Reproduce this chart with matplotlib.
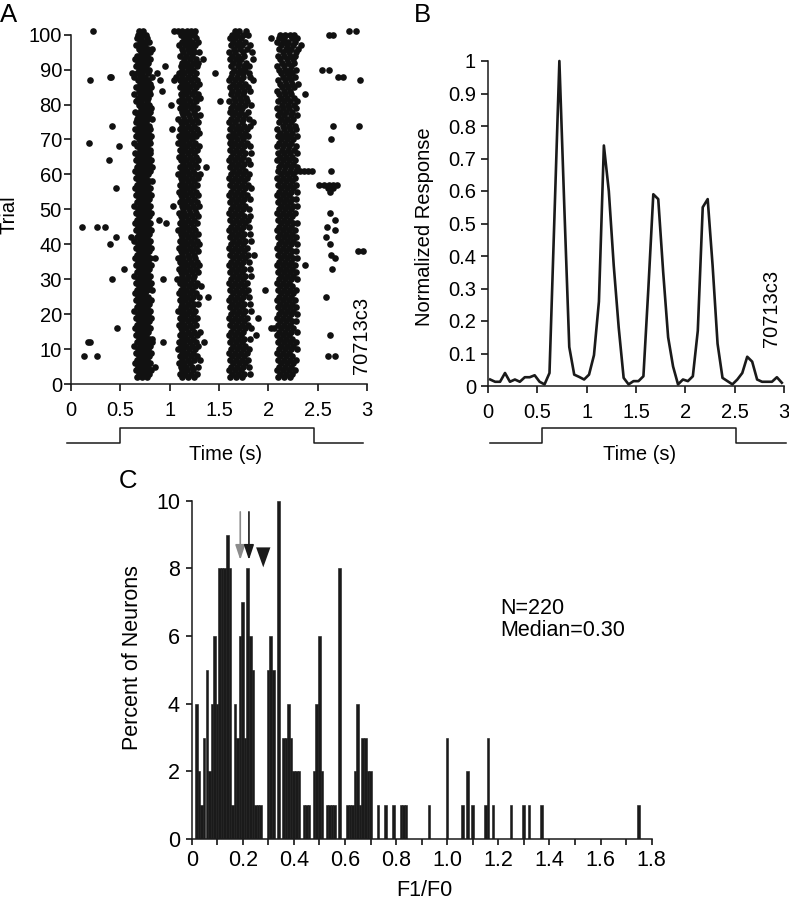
import numpy as np
import matplotlib
matplotlib.use('Agg')
from matplotlib import pyplot as plt

plt.rcParams['font.family'] = ['Liberation Sans', 'DejaVu Sans']

W, H = 789, 900

# ---- A: raster, spike times in 1/100 s, one string per trial (top trial first)
trials = list(range(101, 1, -1))
spikes = [
    "22 69 73 104 108 113 118 122 126 166 170 177 282 289",
    "68 72 76 111 116 121 125 163 168 174 179 212 217 222 226 261 266",
    "67 71 77 115 120 127 161 166 172 203 211 216 224 229",
    "70 74 79 113 118 123 129 164 170 176 209 215 220 227",
    "66 71 75 109 116 121 126 162 168 173 181 213 219 225 233",
    "69 73 78 82 112 119 124 165 171 178 211 218 223 230",
    "71 76 80 114 120 125 130 160 166 174 183 215 221 228",
    "67 72 77 110 117 123 163 169 175 210 216 222 227",
    "65 70 75 80 115 121 127 134 161 167 172 184 212 219 225",
    "68 73 78 112 118 124 129 164 170 177 214 220 226",
    "66 71 76 95 111 117 122 128 162 169 175 180 209 216 223",
    "69 74 79 113 119 124 165 171 176 211 217 222 228 254 261",
    "62 67 72 78 87 109 115 121 127 146 163 169 174 180 213 219 224",
    "40 41 64 70 75 82 106 113 119 125 162 168 174 181 215 221 227 271 276",
    "19 68 73 78 90 104 110 116 122 128 160 166 172 184 210 217 223 293",
    "70 75 80 112 118 124 130 164 170 176 212 218 224 230",
    "66 71 76 81 110 116 121 127 161 167 173 179 214 220 226",
    "69 74 79 92 114 119 125 163 169 175 181 209 216 222",
    "64 70 75 80 111 117 123 129 162 168 174 211 217 223 237",
    "68 73 78 113 119 126 131 165 171 177 213 219 226",
    "66 71 77 109 115 121 127 151 160 166 172 178 210 216 222 229",
    "69 74 79 101 112 118 124 164 170 176 182 214 220 226",
    "71 76 81 110 116 122 128 162 168 173 209 215 221 228",
    "65 70 75 80 112 118 125 161 166 172 179 212 218 224",
    "68 73 78 114 120 126 131 164 170 176 210 216 223 229",
    "67 72 77 82 108 115 121 127 162 168 174 180 213 219 225",
    "66 71 76 111 117 123 129 160 166 173 184 211 217 223",
    "42 69 74 79 113 119 125 163 169 175 181 215 221 227 266 292",
    "65 70 75 80 102 110 116 122 128 161 167 172 178 209 216 222 228",
    "68 73 78 112 118 124 130 164 170 176 212 218 224",
    "66 71 76 81 109 115 121 127 160 166 173 179 210 216 222 229",
    "69 74 79 111 117 123 162 168 174 213 219 225 264",
    "18 64 70 75 80 108 114 120 126 161 166 172 178 211 217 223",
    "49 67 72 77 112 118 124 130 163 169 175 181 209 215 221 228",
    "70 75 80 110 116 122 128 161 167 173 214 220 226",
    "65 70 75 80 113 119 125 164 170 176 182 210 216 222 229",
    "68 73 78 109 115 121 127 162 168 174 212 218 224",
    "39 66 71 76 81 111 117 123 129 160 166 172 179 209 215 221 227",
    "69 74 79 114 120 126 163 169 175 181 213 219 225",
    "67 72 77 82 110 116 122 128 137 161 167 173 211 217 223 229",
    "65 70 75 80 112 118 124 164 170 176 210 216 222 228 232 236 240 244 264",
    "68 73 78 108 114 120 126 131 162 168 174 180 213 219 225",
    "66 71 76 111 117 123 129 160 166 172 178 209 215 221 227",
    "69 74 79 82 113 119 125 163 169 175 212 218 224",
    "67 72 77 110 116 122 128 161 167 173 179 210 216 222 228 251 256 261 266 270",
    "46 65 70 75 80 112 118 124 164 170 176 182 213 219 225 260 266",
    "68 73 78 109 115 121 127 162 168 174 211 217 223 229 262",
    "66 71 76 81 111 117 123 129 160 166 172 178 209 215 221",
    "69 74 79 113 119 125 163 169 175 181 212 218 224 228",
    "67 72 77 110 116 122 128 161 167 173 210 216 222",
    "64 70 75 80 103 112 118 124 130 164 170 176 213 219 225 229",
    "68 73 78 114 120 126 162 168 174 180 211 217 223",
    "66 71 76 81 109 115 121 127 160 166 172 209 215 221 227 262",
    "69 74 79 111 117 123 129 163 169 175 181 212 218 224",
    "67 72 77 89 113 119 125 161 167 173 179 210 216 222 268",
    "65 70 75 80 96 110 116 122 128 164 170 176 213 219 225 229",
    "11 26 34 68 73 78 112 118 124 162 168 174 180 211 217 223 259",
    "66 71 76 81 108 114 120 126 160 166 172 209 215 221 227 268",
    "69 74 79 111 117 123 129 163 169 175 181 212 218 224",
    "46 61 67 72 77 113 119 125 161 167 173 210 216 222 228 258",
    "64 70 75 80 110 116 122 128 164 170 176 182 213 219 225",
    "40 68 73 78 112 118 124 130 162 168 174 211 217 223 229 262",
    "66 71 76 81 109 115 121 127 160 166 172 178 209 215 221",
    "69 74 79 111 117 123 129 163 169 175 212 218 224 228 291 296",
    "67 72 77 113 119 125 161 167 173 179 185 210 216 222 264",
    "65 70 75 80 85 108 114 120 126 164 170 176 213 219 225 229 268",
    "68 73 78 110 116 122 128 162 168 174 180 211 217 223",
    "66 71 76 81 112 118 124 130 160 166 172 209 215 221 227 237",
    "54 69 74 79 109 115 121 127 163 169 175 181 212 218 224 265",
    "67 72 77 111 117 123 129 161 167 173 210 216 222 228",
    "64 70 75 80 113 119 125 164 170 176 182 213 219 225",
    "42 68 73 78 93 107 112 118 124 162 168 174 211 217 223 229",
    "66 71 76 81 110 116 122 128 160 166 172 178 209 215 221",
    "69 74 79 114 120 126 132 163 169 175 212 218 224",
    "67 72 77 82 111 117 123 161 167 173 179 197 210 216 222 228",
    "65 70 75 109 115 121 127 164 170 176 213 219 225",
    "68 73 78 112 118 124 130 139 162 168 174 180 211 217 223 258",
    "66 71 76 81 110 116 122 160 166 172 209 215 221 227",
    "69 74 79 113 119 125 129 163 169 175 181 212 218 224",
    "67 72 77 111 117 123 161 167 173 210 216 222 228",
    "64 70 75 80 108 114 120 126 164 170 176 182 213 219 225",
    "68 73 78 112 118 124 162 168 174 211 217 223 229",
    "66 71 76 81 110 116 122 128 160 166 172 178 190 209 215 221",
    "69 74 79 113 119 125 163 169 175 212 218 224 228",
    "67 72 77 109 115 121 127 161 167 173 179 210 216 222",
    "47 65 70 75 80 111 117 123 164 170 176 182 203 206 213 219 225",
    "68 73 78 113 119 125 131 162 168 174 211 217 223 229",
    "66 71 76 110 116 122 128 160 166 172 188 209 215 221 262",
    "69 74 79 82 112 118 124 163 169 175 181 212 218 224",
    "17 19 67 72 77 82 93 109 115 121 127 135 161 167 173 210 216 222 228",
    "64 70 75 80 111 117 123 129 164 170 176 213 219 225",
    "68 73 78 108 114 120 126 162 168 174 180 211 217 223 229",
    "66 71 76 81 112 118 124 160 166 172 178 209 215 221",
    "13 26 69 74 79 110 116 122 128 163 169 175 212 218 224 260 268",
    "67 72 77 113 119 125 131 161 167 173 179 210 216 222 228",
    "65 70 75 80 109 115 121 164 170 176 213 219 225",
    "68 73 78 85 111 117 123 129 162 168 174 180 211 217 223",
    "66 71 76 81 112 118 124 160 166 172 209 215 221 227",
    "69 74 79 110 116 122 128 163 169 175 181 212 218 224",
    "67 72 77 113 119 125 161 167 173 210 216 222",
]

# ---- B: normalized PSTH
psth_t = [0.025, 0.075, 0.125, 0.175, 0.225, 0.275, 0.325, 0.375, 0.425, 0.475,
          0.525, 0.575, 0.625, 0.675, 0.725, 0.775, 0.825, 0.875, 0.925, 0.975,
          1.025, 1.075, 1.125, 1.175, 1.225, 1.275, 1.325, 1.375, 1.425, 1.475,
          1.525, 1.575, 1.625, 1.675, 1.725, 1.775, 1.825, 1.875, 1.925, 1.975,
          2.025, 2.075, 2.125, 2.175, 2.225, 2.275, 2.325, 2.375, 2.425, 2.475,
          2.525, 2.575, 2.625, 2.675, 2.725, 2.775, 2.825, 2.875, 2.925, 2.975]
psth_r = [0.020, 0.013, 0.013, 0.040, 0.013, 0.020, 0.013, 0.027, 0.027, 0.033,
          0.013, 0.005, 0.040, 0.520, 1.000, 0.550, 0.120, 0.035, 0.028, 0.020,
          0.035, 0.095, 0.260, 0.740, 0.600, 0.370, 0.180, 0.025, 0.005, 0.015,
          0.015, 0.030, 0.300, 0.590, 0.575, 0.350, 0.150, 0.060, 0.005, 0.020,
          0.015, 0.030, 0.170, 0.550, 0.575, 0.370, 0.130, 0.025, 0.015, 0.005,
          0.020, 0.040, 0.090, 0.075, 0.020, 0.013, 0.013, 0.013, 0.027, 0.010]

# stimulus traces (time, level)
stim_a_t = [-0.04, 0.5, 0.5, 2.46, 2.46, 2.96]
stim_b_t = [0.02, 0.55, 0.55, 2.51, 2.51, 3.02]
stim_lvl = [0, 0, 1, 1, 0, 0]

# ---- C: F1/F0 histogram (bin left edge, percent)
f1f0_bins = [0.01, 0.02, 0.03, 0.04, 0.05, 0.06, 0.07, 0.08, 0.09, 0.10,
             0.11, 0.12, 0.13, 0.14, 0.15, 0.16, 0.17, 0.18, 0.19, 0.20,
             0.21, 0.22, 0.23, 0.24, 0.25, 0.26, 0.29, 0.30, 0.31, 0.33,
             0.35, 0.36, 0.37, 0.38, 0.39, 0.40, 0.41, 0.43, 0.44, 0.45,
             0.47, 0.48, 0.49, 0.50, 0.52, 0.53, 0.54, 0.55, 0.57, 0.60,
             0.61, 0.62, 0.63, 0.64, 0.65, 0.66, 0.67, 0.68, 0.69, 0.72,
             0.75, 0.78, 0.81, 0.82, 0.83, 0.92, 0.99, 1.05, 1.07, 1.09,
             1.14, 1.15, 1.17, 1.24, 1.29, 1.31, 1.36, 1.74]
pct = [4, 2, 1, 3, 5, 2, 4, 6, 4, 8,
       8, 8, 9, 8, 1, 4, 3, 6, 7, 3,
       8, 6, 5, 1, 1, 1, 5, 6, 5, 10,
       3, 3, 4, 3, 2, 2, 2, 1, 1, 1,
       2, 4, 6, 2, 1, 1, 1, 1, 8, 1,
       1, 1, 2, 4, 1, 3, 3, 2, 2, 1,
       1, 1, 1, 1, 1, 1, 3, 1, 2, 1,
       1, 3, 1, 1, 1, 1, 1, 1]
gray_arrow_x = 0.19
black_arrow_x = 0.224
median_mark_x = 0.28

fig = plt.figure(figsize=(W / 100, H / 100), dpi=100)

def px_axes(x0, x1, ytop, ybot):
    return fig.add_axes([x0 / W, 1 - ybot / H, (x1 - x0) / W, (ybot - ytop) / H])

def style(ax):
    for s in ['top', 'right']:
        ax.spines[s].set_visible(False)
    for s in ['left', 'bottom']:
        ax.spines[s].set_linewidth(1.1)
        ax.spines[s].set_color('#1a1a1a')

time_ticks = [0, 0.5, 1, 1.5, 2, 2.5, 3]
time_labels = ['0', '0.5', '1', '1.5', '2', '2.5', '3']

# ---------------- A
axA = px_axes(71, 367, 34.7, 384)
style(axA)
for tr, row in zip(trials, spikes):
    ts = [int(v) / 100 for v in row.split()]
    axA.scatter(ts, [tr] * len(ts), s=23, color='#111111', linewidths=0, clip_on=False)
axA.set_xlim(0, 3)
axA.set_ylim(0, 100)
axA.set_xticks(time_ticks)
axA.set_xticklabels(time_labels)
axA.set_yticks(range(0, 101, 10))
axA.tick_params(axis='x', direction='out', length=5, width=1.1, labelsize=14.5, pad=7)
axA.tick_params(axis='y', direction='out', length=5, width=1.1, labelsize=14.5, pad=1.5)

# ---------------- B
axB = px_axes(487.7, 784.3, 61, 386)
style(axB)
axB.plot(psth_t, psth_r, color='#1a1a1a', lw=1.9, clip_on=False)
axB.set_xlim(0, 3)
axB.set_ylim(0, 1)
axB.set_xticks(time_ticks)
axB.set_xticklabels(time_labels)
bt = [i / 10 for i in range(11)]
axB.set_yticks(bt)
axB.set_yticklabels(['0'] + ['%.1f' % v for v in bt[1:-1]] + ['1'])
axB.tick_params(axis='x', direction='out', length=5, width=1.1, labelsize=14.5, pad=7)
axB.tick_params(axis='y', direction='out', length=5, width=1.1, labelsize=14.5, pad=3.5)

# stimulus traces
for (x0, x1), st in [((71, 367), stim_a_t), ((487.7, 784.3), stim_b_t)]:
    sa = px_axes(x0, x1, 428.3, 442.7)
    sa.plot(st, stim_lvl, color='#1a1a1a', lw=1.1, clip_on=False)
    sa.set_xlim(0, 3)
    sa.set_ylim(0, 1)
    sa.axis('off')

# ---------------- C
axC = px_axes(191.7, 651.7, 500.7, 839)
style(axC)
axC.bar(np.array(f1f0_bins) + 0.004, pct, width=0.01, align='edge',
        color='#1a1a1a', edgecolor='#1a1a1a', linewidth=0.4)
axC.set_xlim(0, 1.8)
axC.set_ylim(0, 10)
axC.set_xticks([i / 5 for i in range(10)])
axC.set_xticklabels(['0'] + ['%.1f' % (i / 5) for i in range(1, 10)])
axC.set_xticks([0.1 + i / 5 for i in range(9)], minor=True)
axC.set_yticks(range(0, 11, 2))
axC.tick_params(axis='x', which='both', direction='out', length=4.5, width=1.1,
                labelsize=15.5, pad=3.5)
axC.tick_params(axis='y', direction='out', length=4.5, width=1.1, labelsize=15.5, pad=4)

axC.annotate('', xy=(gray_arrow_x, 8.25), xytext=(gray_arrow_x, 9.67),
             arrowprops=dict(arrowstyle='-|>,head_length=0.9,head_width=0.3',
                             color='#8c8c8c', lw=1.2, mutation_scale=10,
                             shrinkA=0, shrinkB=0))
axC.annotate('', xy=(black_arrow_x, 8.25), xytext=(black_arrow_x, 9.67),
             arrowprops=dict(arrowstyle='-|>,head_length=0.9,head_width=0.3',
                             color='#1a1a1a', lw=1.2, mutation_scale=10,
                             shrinkA=0, shrinkB=0))
axC.fill([median_mark_x - 0.028, median_mark_x + 0.028, median_mark_x],
         [8.62, 8.62, 8.03], color='#1a1a1a', lw=0)

axC.text(1.206, 6.8, 'N=220', fontsize=15.5, va='center', ha='left')
axC.text(1.206, 6.17, 'Median=0.30', fontsize=15.5, va='center', ha='left')

# ---------------- labels
def ftext(x, y, s, **kw):
    fig.text(x / W, 1 - y / H, s, **kw)

ftext(0, 21.7, 'A', fontsize=18.5, ha='left', va='baseline')
ftext(414, 22, 'B', fontsize=18.5, ha='left', va='baseline')
ftext(119, 488.3, 'C', fontsize=18.5, ha='left', va='baseline')

ftext(9.5, 215, 'Trial', fontsize=14.5, rotation=90, ha='center', va='center')
ftext(425, 226.7, 'Normalized Response', fontsize=14.5, rotation=90, ha='center', va='center')
ftext(226, 455, 'Time (s)', fontsize=14.5, ha='center', va='center')
ftext(640, 455, 'Time (s)', fontsize=14.5, ha='center', va='center')
ftext(362, 335, '70713c3', fontsize=14.5, rotation=90, ha='center', va='center')
ftext(771.7, 308.5, '70713c3', fontsize=14.5, rotation=90, ha='center', va='center')
ftext(133, 658, 'Percent of Neurons', fontsize=15.5, rotation=90, ha='center', va='center')
ftext(424, 890, 'F1/F0', fontsize=15.5, ha='center', va='center')

fig.savefig('out.png', dpi=100)
